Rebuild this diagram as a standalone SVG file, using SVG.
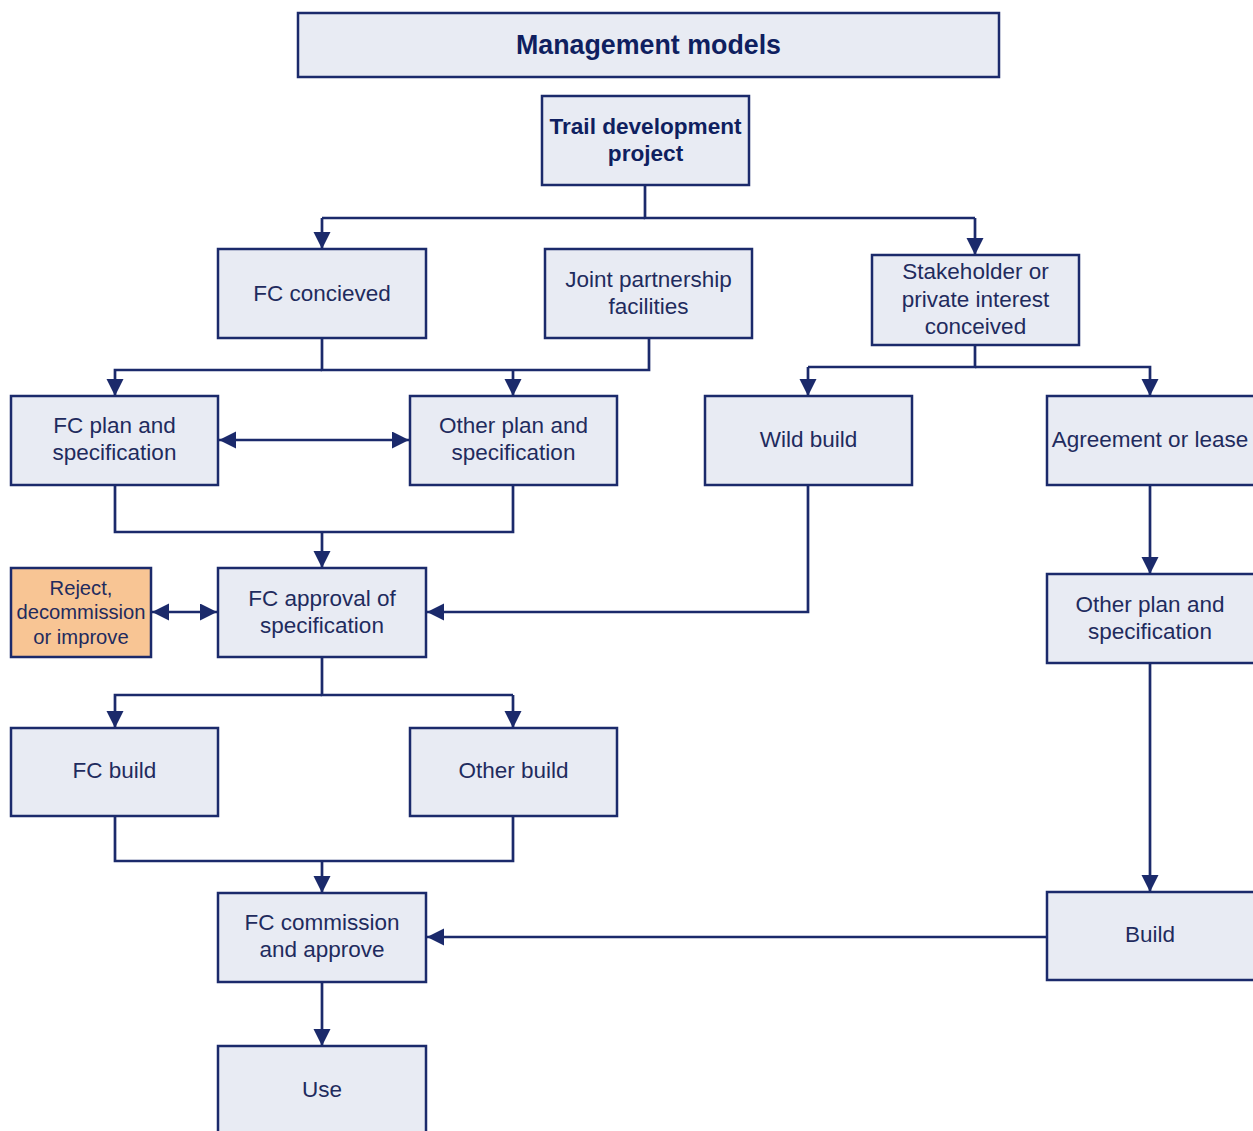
<svg xmlns="http://www.w3.org/2000/svg" width="1253" height="1131" viewBox="0 0 1253 1131">
<style>
.box{fill:#e8ebf3;stroke:#1b2a6b;stroke-width:2.5}
.rej{fill:#f8c594;stroke:#1b2a6b;stroke-width:2.5}
.t{font-family:"Liberation Sans",Arial,sans-serif;font-size:22.5px;fill:#1f2b5e;text-anchor:middle}
.b{font-weight:bold;fill:#0f1f60}
.c{fill:none;stroke:#1b2a6b;stroke-width:2.7}
.a{marker-end:url(#ah)}
.d{marker-start:url(#ah);marker-end:url(#ah)}
</style>
<defs>
<marker id="ah" markerUnits="userSpaceOnUse" markerWidth="18" markerHeight="18" refX="17" refY="8.5" orient="auto-start-reverse">
<path d="M0,0 L17,8.5 L0,17 z" fill="#1b2a6b"/>
</marker>
</defs>
<rect width="1253" height="1131" fill="#ffffff"/>
<g id="connectors">
<path class="c" d="M645,185 V218 H975"/>
<path class="c a" d="M322,218 H645 M322,218 V249"/>
<path class="c a" d="M975,218 V255"/>
<path class="c" d="M322,338 V370 H649 V338"/>
<path class="c a" d="M322,370 H115 V396"/>
<path class="c a" d="M513,370 V396"/>
<path class="c" d="M975,345 V367 H808"/>
<path class="c a" d="M808,367 V396"/>
<path class="c a" d="M975,367 H1150 V396"/>
<path class="c d" d="M219,440 H409"/>
<path class="c" d="M115,485 V532 H513 V485"/>
<path class="c a" d="M322,532 V568"/>
<path class="c a" d="M808,485 V612 H427"/>
<path class="c d" d="M152,612 H217"/>
<path class="c a" d="M1150,485 V574"/>
<path class="c a" d="M1150,663 V892"/>
<path class="c" d="M322,657 V695 H513"/>
<path class="c a" d="M322,695 H115 V728"/>
<path class="c a" d="M513,695 V728"/>
<path class="c" d="M115,816 V861 H513 V816"/>
<path class="c a" d="M322,861 V893"/>
<path class="c a" d="M1047,937 H427"/>
<path class="c a" d="M322,982 V1046"/>
</g>
<g id="title"><rect class="box" x="298" y="13" width="701" height="64"/><text class="t b" x="648.5" y="54" style="font-size:26.8px">Management models</text></g>
<g id="trail"><rect class="box" x="542" y="96" width="207" height="89"/><text class="t b" x="645.5" y="134" style="font-size:22.6px">Trail development</text><text class="t b" x="645.5" y="161" style="font-size:22.6px">project</text></g>
<g id="fc-conceived"><rect class="box" x="218" y="249" width="208" height="89"/><text class="t" x="322" y="301">FC concieved</text></g>
<g id="joint"><rect class="box" x="545" y="249" width="207" height="89"/><text class="t" x="648.5" y="287">Joint partnership</text><text class="t" x="648.5" y="314">facilities</text></g>
<g id="stakeholder"><rect class="box" x="872" y="255" width="207" height="90"/><text class="t" x="975.5" y="279">Stakeholder or</text><text class="t" x="975.5" y="307">private interest</text><text class="t" x="975.5" y="334">conceived</text></g>
<g id="fc-plan"><rect class="box" x="11" y="396" width="207" height="89"/><text class="t" x="114.5" y="433">FC plan and</text><text class="t" x="114.5" y="460">specification</text></g>
<g id="other-plan"><rect class="box" x="410" y="396" width="207" height="89"/><text class="t" x="513.5" y="433">Other plan and</text><text class="t" x="513.5" y="460">specification</text></g>
<g id="wild-build"><rect class="box" x="705" y="396" width="207" height="89"/><text class="t" x="808.5" y="447">Wild build</text></g>
<g id="agreement"><rect class="box" x="1047" y="396" width="210" height="89"/><text class="t" x="1150" y="447">Agreement or lease</text></g>
<g id="reject"><rect class="rej" x="11" y="568" width="140" height="89"/><text class="t" x="81" y="595" style="font-size:20.2px">Reject,</text><text class="t" x="81" y="619" style="font-size:20.2px">decommission</text><text class="t" x="81" y="644" style="font-size:20.2px">or improve</text></g>
<g id="fc-approval"><rect class="box" x="218" y="568" width="208" height="89"/><text class="t" x="322" y="606">FC approval of</text><text class="t" x="322" y="633">specification</text></g>
<g id="other-plan-2"><rect class="box" x="1047" y="574" width="210" height="89"/><text class="t" x="1150" y="612">Other plan and</text><text class="t" x="1150" y="639">specification</text></g>
<g id="fc-build"><rect class="box" x="11" y="728" width="207" height="88"/><text class="t" x="114.5" y="778">FC build</text></g>
<g id="other-build"><rect class="box" x="410" y="728" width="207" height="88"/><text class="t" x="513.5" y="778">Other build</text></g>
<g id="fc-commission"><rect class="box" x="218" y="893" width="208" height="89"/><text class="t" x="322" y="930">FC commission</text><text class="t" x="322" y="957">and approve</text></g>
<g id="build"><rect class="box" x="1047" y="892" width="210" height="88"/><text class="t" x="1150" y="942">Build</text></g>
<g id="use"><rect class="box" x="218" y="1046" width="208" height="90"/><text class="t" x="322" y="1097">Use</text></g>
</svg>
